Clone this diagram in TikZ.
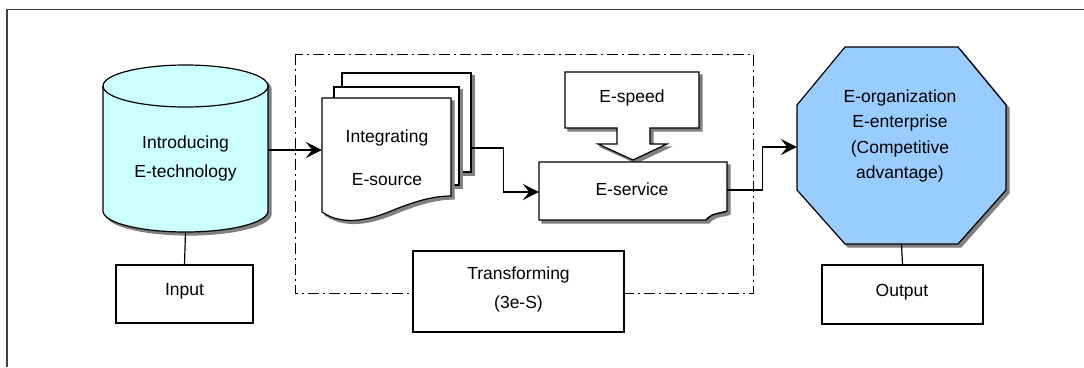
\documentclass[tikz,border=0pt]{standalone}
\usepackage{fontspec}
\setmainfont{Liberation Sans}
\usetikzlibrary{arrows.meta}
\definecolor{cyanfill}{HTML}{CCFFFF}
\definecolor{octfill}{HTML}{99CCFF}
\begin{document}
\begin{tikzpicture}[x=1pt,y=1pt,
  txt/.style={font=\fontsize{17.5}{25}\selectfont, align=center, inner sep=0pt},
  shp/.style={draw=black, line width=1.2pt},
  shd/.style={preaction={draw=black!50, line width=1.2pt, fill=black!50, transform canvas={xshift=3pt,yshift=-3pt}}},
  plainbox/.style={draw=black, line width=1.2pt, fill=white, inner sep=0pt},
  arr/.style={draw=black, line width=1.2pt, -{Stealth[length=16pt,width=16pt,inset=6.5pt]}},
  conn/.style={draw=black, line width=1.2pt},
  dashdot/.style={draw=black, line width=1pt, dash pattern=on 11pt off 4pt on 2pt off 4pt}
]
\useasboundingbox (0,0) rectangle (1084,-367);
% outer frame
\draw[black!75, line width=1.6pt] (7,-367) -- (7,-9.5) -- (1084,-9.5);

% dash-dot transform area
\draw[dashdot] (295,-54) rectangle (753,-293);

% cylinder
\node[inner sep=0pt, minimum width=165pt, minimum height=167pt] (cyl) at (185.5,-148.5) {};
\draw[shp, fill=cyanfill, shd] (103,-86) -- (103,-211) arc (180:360:82.5 and 21) -- (268,-86) arc (0:180:82.5 and 21) -- cycle;
\draw[shp] (103,-86) arc (180:360:82.5 and 21);
\node[txt, font=\fontsize{17.5}{29}\selectfont] (cyltxt) at (185.5,-158) {Introducing\\E-technology};

% input
\node[plainbox, minimum width=137pt, minimum height=58pt] (input) at (184.5,-294) {};
\node[txt] (inputtxt) at (184.5,-291) {Input};

% documents
\node[inner sep=0pt, minimum width=129pt, minimum height=99pt] (docb) at (406.5,-122.5) {};
\draw[shp, fill=white, shd] (342,-73) rectangle (471,-172);
\node[inner sep=0pt, minimum width=125pt, minimum height=98pt] (docm) at (396.5,-136) {};
\draw[shp, fill=white, shd] (334,-87) rectangle (459,-185);
\node[inner sep=0pt, minimum width=129pt, minimum height=119pt] (docf) at (386.5,-157.5) {};
\draw[shp, fill=white, shd] (322,-98) -- (451,-98) -- (451,-196)
  .. controls (432,-196) and (414,-202) .. (396,-209)
  .. controls (375,-218) and (345,-228) .. (322,-212) -- cycle;
\node[txt, font=\fontsize{17.5}{43}\selectfont] (doctxt) at (387,-158) {Integrating\\E-source};

% E-speed
\node[inner sep=0pt, minimum width=134pt, minimum height=56pt] (espeed) at (632,-100) {};
\draw[shp, fill=white, shd] (565,-72) -- (699,-72) -- (699,-128) -- (650,-128) -- (650,-144) -- (667,-144)
  -- (633,-160) -- (598,-144) -- (617,-144) -- (617,-128) -- (565,-128) -- cycle;
\node[txt] (espeedtxt) at (632,-98) {E-speed};

% E-service
\node[inner sep=0pt, minimum width=188pt, minimum height=58pt] (esvc) at (633,-191) {};
\draw[shp, fill=white, shd] (539,-162) -- (727,-162) -- (727,-211)
  .. controls (722,-214) and (712,-212) .. (706,-220) -- (539,-220) -- cycle;
\draw[line width=0.8pt, fill=black!35] (727,-211) .. controls (720,-213) and (712,-213) .. (706,-220) -- (712,-215) -- cycle;
\node[txt] (esvctxt) at (632,-189) {E-service};

% Transforming
\node[plainbox, minimum width=211pt, minimum height=81pt] (transf) at (518.5,-291.5) {};
\node[txt, font=\fontsize{17.5}{29}\selectfont] (transftxt) at (518.5,-289) {Transforming\\(3e-S)};

% octagon
\node[inner sep=0pt, minimum width=209pt, minimum height=197pt] (oct) at (901.5,-145.5) {};
\draw[shp, fill=octfill, shd] (845,-47) -- (958,-47) -- (1006,-105) -- (1006,-190) -- (958,-244)
  -- (845,-244) -- (797,-190) -- (797,-105) -- cycle;
\node[txt, font=\fontsize{17.5}{25.5}\selectfont] (octtxt) at (900,-136) {E-organization\\E-enterprise\\(Competitive\\advantage)};

% output
\node[plainbox, minimum width=161pt, minimum height=59pt] (output) at (902.5,-294.5) {};
\node[txt] (outputtxt) at (902,-292) {Output};

% connectors
\draw[conn] (cyl.south) -- (input.north);
\draw[conn] (oct.south) -- (output.north);
\draw[arr] ([yshift=-1.5pt]cyl.east) -- ([yshift=-1.5pt]cyl.east -| docf.west);
\draw[arr] ([yshift=-25.5pt]docb.east) -- ++(32,0) |- ([yshift=-1pt]esvc.west);
\draw[arr] ([yshift=1pt]esvc.east) -- ++(35,0) |- ([yshift=-1.5pt]oct.west);
\end{tikzpicture}
\end{document}
